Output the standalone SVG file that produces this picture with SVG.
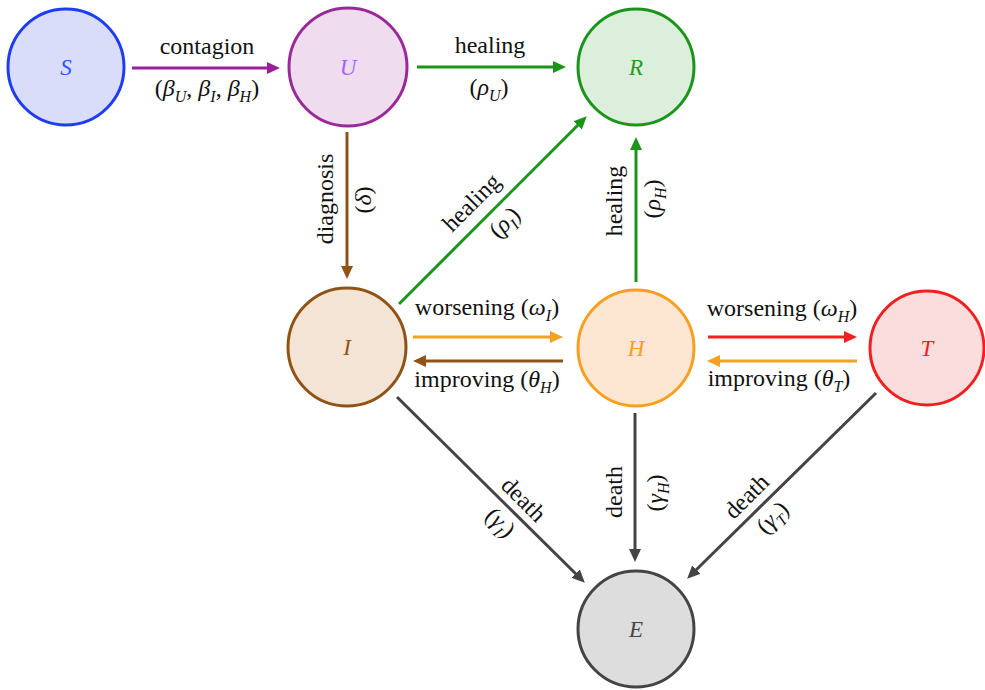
<svg xmlns="http://www.w3.org/2000/svg" width="985" height="690" viewBox="0 0 985 690">
<style>
.lbl{font-size:24px;fill:#111;}
.sub{font-size:16px;font-style:italic;}
.gr{font-style:italic;}
.nl{font-size:23px;font-style:italic;text-anchor:middle;}
.node{stroke-width:3;}
.c{fill:none;stroke-width:3;}
</style>
<defs>
<marker id="aPur" markerUnits="userSpaceOnUse" markerWidth="14" markerHeight="12" refX="2" refY="6" orient="auto"><path d="M0,0 L13,6 L0,12 z" fill="#9a1f9a"/></marker>
<marker id="aGrn" markerUnits="userSpaceOnUse" markerWidth="14" markerHeight="12" refX="2" refY="6" orient="auto"><path d="M0,0 L13,6 L0,12 z" fill="#1a951a"/></marker>
<marker id="aBrn" markerUnits="userSpaceOnUse" markerWidth="14" markerHeight="12" refX="2" refY="6" orient="auto"><path d="M0,0 L13,6 L0,12 z" fill="#8f5316"/></marker>
<marker id="aOrg" markerUnits="userSpaceOnUse" markerWidth="14" markerHeight="12" refX="2" refY="6" orient="auto"><path d="M0,0 L13,6 L0,12 z" fill="#f5a020"/></marker>
<marker id="aRed" markerUnits="userSpaceOnUse" markerWidth="14" markerHeight="12" refX="2" refY="6" orient="auto"><path d="M0,0 L13,6 L0,12 z" fill="#f02020"/></marker>
<marker id="aGry" markerUnits="userSpaceOnUse" markerWidth="14" markerHeight="12" refX="2" refY="6" orient="auto"><path d="M0,0 L13,6 L0,12 z" fill="#444444"/></marker>
</defs>
<rect width="985" height="690" fill="#ffffff"/>

<g id="connectors">
<line class="c" x1="132" y1="68" x2="269" y2="68" stroke="#9a1f9a" marker-end="url(#aPur)"/>
<line class="c" x1="417" y1="67" x2="555" y2="67" stroke="#1a951a" marker-end="url(#aGrn)"/>
<line class="c" x1="347" y1="132" x2="347" y2="268" stroke="#8f5316" marker-end="url(#aBrn)"/>
<line class="c" x1="399" y1="304" x2="579" y2="124" stroke="#1a951a" marker-end="url(#aGrn)"/>
<line class="c" x1="636" y1="282" x2="636" y2="148" stroke="#1a951a" marker-end="url(#aGrn)"/>
<line class="c" x1="413" y1="337" x2="552" y2="337" stroke="#f5a020" marker-end="url(#aOrg)"/>
<line class="c" x1="563" y1="361" x2="424" y2="361" stroke="#8f5316" marker-end="url(#aBrn)"/>
<line class="c" x1="708" y1="337" x2="846" y2="337" stroke="#f02020" marker-end="url(#aRed)"/>
<line class="c" x1="857" y1="361" x2="718" y2="361" stroke="#f5a020" marker-end="url(#aOrg)"/>
<line class="c" x1="397" y1="397" x2="577" y2="575" stroke="#444444" marker-end="url(#aGry)"/>
<line class="c" x1="635" y1="413" x2="635" y2="551" stroke="#444444" marker-end="url(#aGry)"/>
<line class="c" x1="876" y1="393" x2="695" y2="571" stroke="#444444" marker-end="url(#aGry)"/>
</g>

<g id="labels" font-family="Liberation Serif, DejaVu Serif, serif">
<text class="lbl" x="207" y="54" text-anchor="middle">contagion</text>
<text class="lbl" x="207" y="96" text-anchor="middle">(<tspan class="gr">β</tspan><tspan class="sub" dy="6">U</tspan><tspan dy="-6">, </tspan><tspan class="gr">β</tspan><tspan class="sub" dy="6">I</tspan><tspan dy="-6">, </tspan><tspan class="gr">β</tspan><tspan class="sub" dy="6">H</tspan><tspan dy="-6">)</tspan></text>
<text class="lbl" x="490" y="53" text-anchor="middle">healing</text>
<text class="lbl" x="489" y="95" text-anchor="middle">(<tspan class="gr">ρ</tspan><tspan class="sub" dy="6">U</tspan><tspan dy="-6">)</tspan></text>
<text class="lbl" transform="translate(333,199) rotate(-90)" text-anchor="middle">diagnosis</text>
<text class="lbl" transform="translate(371,200) rotate(-90)" text-anchor="middle">(<tspan class="gr">δ</tspan>)</text>
<text class="lbl" transform="translate(477,208) rotate(-45)" text-anchor="middle">healing</text>
<text class="lbl" transform="translate(510,228) rotate(-45)" text-anchor="middle">(<tspan class="gr">ρ</tspan><tspan class="sub" dy="6">I</tspan><tspan dy="-6">)</tspan></text>
<text class="lbl" transform="translate(622,201) rotate(-90)" text-anchor="middle">healing</text>
<text class="lbl" transform="translate(660,199) rotate(-90)" text-anchor="middle">(<tspan class="gr">ρ</tspan><tspan class="sub" dy="6">H</tspan><tspan dy="-6">)</tspan></text>
<text class="lbl" x="487" y="315" text-anchor="middle">worsening (<tspan class="gr">ω</tspan><tspan class="sub" dy="6">I</tspan><tspan dy="-6">)</tspan></text>
<text class="lbl" x="487" y="387" text-anchor="middle">improving (<tspan class="gr">θ</tspan><tspan class="sub" dy="6">H</tspan><tspan dy="-6">)</tspan></text>
<text class="lbl" x="782" y="316" text-anchor="middle">worsening (<tspan class="gr">ω</tspan><tspan class="sub" dy="6">H</tspan><tspan dy="-6">)</tspan></text>
<text class="lbl" x="779" y="386" text-anchor="middle">improving (<tspan class="gr">θ</tspan><tspan class="sub" dy="6">T</tspan><tspan dy="-6">)</tspan></text>
<text class="lbl" transform="translate(518,505) rotate(45)" text-anchor="middle">death</text>
<text class="lbl" transform="translate(495,528) rotate(45)" text-anchor="middle">(<tspan class="gr">γ</tspan><tspan class="sub" dy="6">I</tspan><tspan dy="-6">)</tspan></text>
<text class="lbl" transform="translate(622,492) rotate(-90)" text-anchor="middle">death</text>
<text class="lbl" transform="translate(663,493) rotate(-90)" text-anchor="middle">(<tspan class="gr">γ</tspan><tspan class="sub" dy="6">H</tspan><tspan dy="-6">)</tspan></text>
<text class="lbl" transform="translate(752,502) rotate(-45)" text-anchor="middle">death</text>
<text class="lbl" transform="translate(778,523) rotate(-45)" text-anchor="middle">(<tspan class="gr">γ</tspan><tspan class="sub" dy="6">T</tspan><tspan dy="-6">)</tspan></text>
</g>

<g id="nodes" font-family="Liberation Serif, DejaVu Serif, serif">
<g id="node-S"><circle class="node" cx="66" cy="67" r="58" fill="#d9ddf9" stroke="#1e3df0"/><text class="nl" x="66" y="75" fill="#2f55ee">S</text></g>
<g id="node-U"><circle class="node" cx="348" cy="67" r="59" fill="#efdcef" stroke="#9a2a9a"/><text class="nl" x="348" y="75" fill="#a266f2">U</text></g>
<g id="node-R"><circle class="node" cx="636" cy="67" r="58" fill="#dcefdc" stroke="#1a951a"/><text class="nl" x="636" y="75" fill="#249a24">R</text></g>
<g id="node-I"><circle class="node" cx="347" cy="347" r="59" fill="#f3e4d5" stroke="#8f5316"/><text class="nl" x="347" y="355" fill="#8f5316">I</text></g>
<g id="node-H"><circle class="node" cx="636" cy="348" r="58" fill="#fde7d2" stroke="#f5a020"/><text class="nl" x="636" y="356" fill="#f5a020">H</text></g>
<g id="node-T"><circle class="node" cx="927" cy="348" r="57" fill="#fcdddd" stroke="#f02020"/><text class="nl" x="927" y="356" fill="#f02020">T</text></g>
<g id="node-E"><circle class="node" cx="636" cy="629" r="58" fill="#dddddd" stroke="#444444"/><text class="nl" x="636" y="637" fill="#444444">E</text></g>
</g>
</svg>
